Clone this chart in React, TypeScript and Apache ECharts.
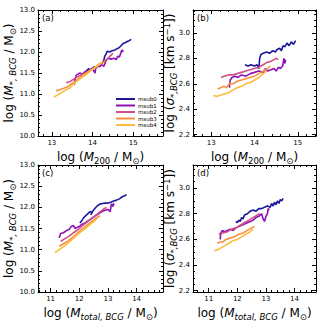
import React, { useEffect, useRef } from "react";
import * as echarts from "echarts";

const seriesNames = ["msub0", "msub1", "msub2", "msub3", "msub4"];
const colors = ["#1c1898", "#8c10b4", "#d04f88", "#f7903e", "#fcbc3e"];

const xTicksM200 = [13, 14, 15];
const xTicksMtot = [11, 12, 13, 14];
const yTicksMass = [10.0, 10.5, 11.0, 11.5, 12.0, 12.5, 13.0];
const yTicksSigma = [2.2, 2.4, 2.6, 2.8, 3.0];

// Panel (a): log M200 vs log M*,BCG
const a0 = [[13.72,11.42],[13.78,11.5],[13.85,11.55],[13.9,11.6],[13.95,11.58],[14.0,11.62],[14.05,11.65],[14.1,11.63],[14.15,11.7],[14.2,11.72],[14.25,11.75],[14.28,11.82],[14.3,11.9],[14.33,11.95],[14.36,12.02],[14.42,12.0],[14.48,12.03],[14.55,12.05],[14.6,12.08],[14.65,12.1],[14.7,12.15],[14.75,12.2],[14.8,12.22],[14.85,12.25],[14.9,12.27],[14.95,12.3]];
const a1 = [[13.55,11.22],[13.57,11.35],[13.6,11.45],[13.65,11.48],[13.7,11.5],[13.75,11.46],[13.8,11.5],[13.85,11.55],[13.9,11.52],[13.95,11.58],[14.0,11.6],[14.03,11.55],[14.06,11.5],[14.08,11.62],[14.12,11.68],[14.18,11.65],[14.22,11.7],[14.28,11.66],[14.33,11.8],[14.38,11.85],[14.45,11.83],[14.52,11.85],[14.58,11.82],[14.62,11.9],[14.66,11.88],[14.7,12.0],[14.73,12.05],[14.75,12.0]];
const a2 = [[13.35,11.27],[13.45,11.3],[13.55,11.36],[13.65,11.42],[13.75,11.47],[13.85,11.52],[13.95,11.57],[14.05,11.62],[14.15,11.68],[14.25,11.75],[14.35,11.82],[14.45,11.92],[14.5,11.97]];
const a3 = [[13.1,11.08],[13.2,11.1],[13.3,11.14],[13.4,11.18],[13.5,11.25],[13.6,11.32],[13.7,11.4],[13.8,11.47],[13.9,11.53],[14.0,11.6],[14.1,11.66],[14.2,11.72],[14.3,11.78]];
const a4 = [[13.05,10.93],[13.15,10.98],[13.25,11.04],[13.35,11.1],[13.45,11.15],[13.55,11.25],[13.65,11.33],[13.75,11.4],[13.85,11.47],[13.95,11.55],[14.05,11.62],[14.15,11.7],[14.22,11.75]];

// Panel (b): log M200 vs log sigma*,BCG
const b0 = [[13.78,2.75],[13.85,2.74],[13.92,2.75],[14.0,2.74],[14.06,2.75],[14.1,2.72],[14.12,2.8],[14.15,2.83],[14.2,2.84],[14.28,2.85],[14.35,2.84],[14.42,2.86],[14.48,2.85],[14.52,2.87],[14.58,2.88],[14.62,2.86],[14.66,2.9],[14.7,2.89],[14.75,2.92],[14.8,2.9],[14.85,2.93],[14.9,2.91],[14.95,2.94]];
const b1 = [[13.42,2.57],[13.44,2.63],[13.48,2.65],[13.55,2.66],[13.62,2.65],[13.7,2.67],[13.8,2.66],[13.9,2.68],[14.0,2.69],[14.1,2.7],[14.2,2.69],[14.25,2.72],[14.3,2.7],[14.38,2.71],[14.45,2.72],[14.5,2.7],[14.55,2.73],[14.6,2.72],[14.65,2.74],[14.68,2.8],[14.7,2.76],[14.72,2.79]];
const b2 = [[13.23,2.65],[13.3,2.66],[13.4,2.67],[13.5,2.67],[13.6,2.68],[13.7,2.69],[13.8,2.7],[13.9,2.71],[14.0,2.72],[14.1,2.73],[14.2,2.75],[14.3,2.77],[14.4,2.78],[14.5,2.8],[14.55,2.79]];
const b3 = [[13.15,2.56],[13.22,2.57],[13.3,2.58],[13.35,2.57],[13.42,2.6],[13.5,2.6],[13.6,2.62],[13.7,2.63],[13.8,2.64],[13.9,2.65],[14.0,2.66],[14.1,2.68],[14.2,2.7],[14.3,2.72],[14.36,2.74]];
const b4 = [[13.05,2.51],[13.12,2.5],[13.2,2.51],[13.3,2.52],[13.4,2.53],[13.5,2.55],[13.6,2.57],[13.7,2.58],[13.8,2.6],[13.9,2.61],[14.0,2.63],[14.1,2.65],[14.2,2.68],[14.28,2.7]];

// Panel (c): log Mtotal,BCG vs log M*,BCG
const c0 = [[12.02,11.63],[12.08,11.68],[12.15,11.75],[12.22,11.8],[12.3,11.85],[12.38,11.9],[12.45,11.88],[12.4,11.82],[12.48,11.92],[12.55,11.98],[12.62,12.03],[12.7,12.07],[12.8,12.09],[12.9,12.1],[13.0,12.1],[13.1,12.12],[13.2,12.15],[13.3,12.17],[13.4,12.2],[13.5,12.25],[13.6,12.28],[13.65,12.3]];
const c1 = [[11.3,11.28],[11.35,11.38],[11.45,11.4],[11.55,11.45],[11.65,11.48],[11.72,11.55],[11.8,11.57],[11.85,11.5],[11.9,11.52],[12.0,11.55],[12.1,11.6],[12.2,11.63],[12.3,11.68],[12.4,11.72],[12.5,11.77],[12.6,11.82],[12.7,11.86],[12.8,11.9],[12.9,11.93],[13.0,11.95],[13.08,11.9],[13.12,12.08],[13.18,12.02],[13.2,12.1]];
const c2 = [[11.35,11.2],[11.5,11.26],[11.65,11.32],[11.8,11.4],[11.95,11.47],[12.1,11.56],[12.25,11.64],[12.4,11.72],[12.55,11.8],[12.7,11.88],[12.85,11.96],[12.95,12.0]];
const c3 = [[11.3,11.08],[11.45,11.14],[11.6,11.2],[11.75,11.28],[11.9,11.37],[12.05,11.46],[12.2,11.54],[12.35,11.62],[12.5,11.7],[12.62,11.76],[12.72,11.8]];
const c4 = [[11.15,10.93],[11.3,11.0],[11.45,11.07],[11.6,11.15],[11.75,11.24],[11.9,11.33],[12.05,11.42],[12.2,11.5],[12.35,11.58],[12.5,11.66],[12.6,11.72]];

// Panel (d): log Mtotal,BCG vs log sigma*,BCG
const d0 = [[11.95,2.74],[12.0,2.73],[12.05,2.75],[12.1,2.74],[12.15,2.77],[12.2,2.76],[12.25,2.79],[12.35,2.8],[12.45,2.82],[12.55,2.83],[12.65,2.82],[12.75,2.84],[12.85,2.84],[12.95,2.85],[13.05,2.86],[13.15,2.85],[13.2,2.88],[13.25,2.86],[13.3,2.89],[13.35,2.87],[13.4,2.9],[13.45,2.88],[13.5,2.91],[13.55,2.9],[13.6,2.92]];
const d1 = [[11.4,2.6],[11.42,2.65],[11.48,2.67],[11.55,2.66],[11.65,2.67],[11.75,2.68],[11.85,2.67],[11.95,2.69],[12.05,2.7],[12.15,2.71],[12.25,2.72],[12.35,2.73],[12.45,2.74],[12.55,2.75],[12.65,2.77],[12.75,2.78],[12.85,2.8],[12.9,2.76],[12.95,2.74],[13.0,2.78],[13.05,2.8],[13.08,2.84],[13.12,2.83]];
const d2 = [[11.35,2.64],[11.5,2.65],[11.65,2.66],[11.8,2.68],[11.95,2.69],[12.1,2.71],[12.25,2.73],[12.4,2.75],[12.55,2.77],[12.7,2.79],[12.8,2.8]];
const d3 = [[11.3,2.57],[11.4,2.58],[11.5,2.58],[11.6,2.6],[11.75,2.61],[11.9,2.62],[12.05,2.64],[12.2,2.65],[12.35,2.67],[12.5,2.69],[12.6,2.7]];
const d4 = [[11.2,2.51],[11.3,2.52],[11.4,2.53],[11.55,2.55],[11.7,2.57],[11.85,2.59],[12.0,2.6],[12.15,2.62],[12.3,2.64],[12.45,2.66],[12.55,2.68]];

const panelData = [
  [a0, a1, a2, a3, a4],
  [b0, b1, b2, b3, b4],
  [c0, c1, c2, c3, c4],
  [d0, d1, d2, d3, d4],
];
const panelLabels = ["(a)", "(b)", "(c)", "(d)"];

const FONT = "DejaVu Sans";

const rich = {
  n: { fontSize: 12, fontFamily: FONT, color: "#000", lineHeight: 16 },
  i: { fontSize: 12, fontFamily: FONT, fontStyle: "italic", color: "#000", lineHeight: 16 },
  s: { fontSize: 8.5, fontFamily: FONT, color: "#000", verticalAlign: "bottom", lineHeight: 9 },
  si: { fontSize: 8.5, fontFamily: FONT, fontStyle: "italic", color: "#000", verticalAlign: "bottom", lineHeight: 9 },
  p: { fontSize: 8.5, fontFamily: FONT, color: "#000", verticalAlign: "top", lineHeight: 9 },
};

const nameM200 = "{n|log (}{i|M}{s|200}{n| / M}{s|⊙}{n|)}";
const nameMtot = "{n|log (}{i|M}{si|total, BCG}{n| / M}{s|⊙}{n|)}";
const nameMstar = "{n|log (}{i|M}{si|*, BCG}{n| / M}{s|⊙}{n|)}";
const nameSigma = "{n|log (}{i|σ}{si|*,BCG}{n| [km s}{p|−1}{n|])}";

function range(a: number, b: number, step: number) {
  const out: number[] = [];
  const n = Math.round((b - a) / step);
  for (let k = 0; k <= n; k++) out.push(+(a + k * step).toFixed(4));
  return out;
}

const panels = [
  { left: 38, top: 10, width: 125, height: 126, x: [12.66, 15.73], y: [10, 13], xt: xTicksM200, yt: yTicksMass, xm: range(12.8, 15.6, 0.2), ym: range(10, 13, 0.1), xn: nameM200, yn: nameMstar, yg: 21 },
  { left: 193, top: 10, width: 123, height: 126, x: [12.58, 15.42], y: [2.19, 3.18], xt: xTicksM200, yt: yTicksSigma, xm: range(12.6, 15.4, 0.2), ym: range(2.2, 3.15, 0.05), xn: nameM200, yn: nameSigma, yg: 15 },
  { left: 38, top: 165, width: 125, height: 128, x: [10.56, 14.92], y: [10, 13], xt: xTicksMtot, yt: yTicksMass, xm: range(10.6, 14.8, 0.2), ym: range(10, 13, 0.1), xn: nameMtot, yn: nameMstar, yg: 21 },
  { left: 193, top: 165, width: 123, height: 128, x: [10.45, 14.75], y: [2.19, 3.18], xt: xTicksMtot, yt: yTicksSigma, xm: range(10.6, 14.6, 0.2), ym: range(2.2, 3.15, 0.05), xn: nameMtot, yn: nameSigma, yg: 15 },
];

function buildOption() {
  const grid: any[] = [];
  const xAxis: any[] = [];
  const yAxis: any[] = [];
  const series: any[] = [];
  const graphic: any[] = [];
  const lineStyle = { color: "#000", width: 1 };

  panels.forEach((p, gi) => {
    grid.push({ left: p.left, top: p.top, width: p.width, height: p.height, containLabel: false });
    const xBase = { type: "value", gridIndex: gi, min: p.x[0], max: p.x[1], splitLine: { show: false } };
    const yBase = { type: "value", gridIndex: gi, min: p.y[0], max: p.y[1], splitLine: { show: false } };
    const mainX = xAxis.length;
    xAxis.push({
      ...xBase, position: "bottom",
      axisLine: { show: true, onZero: false, lineStyle },
      axisTick: { show: true, inside: true, length: 4, customValues: p.xt, lineStyle },
      axisLabel: { show: true, customValues: p.xt, fontSize: 7, fontFamily: FONT, color: "#000", margin: 3, formatter: (v: number) => String(Math.round(v)) },
      name: p.xn, nameLocation: "middle", nameGap: 13, nameMoveOverlap: false,
      nameTextStyle: { rich },
    });
    xAxis.push({ ...xBase, position: "bottom", axisLine: { show: false, onZero: false }, axisTick: { show: true, inside: true, length: 2, customValues: p.xm, lineStyle }, axisLabel: { show: false } });
    xAxis.push({ ...xBase, position: "top", axisLine: { show: true, onZero: false, lineStyle }, axisTick: { show: true, inside: true, length: 4, customValues: p.xt, lineStyle }, axisLabel: { show: false } });
    xAxis.push({ ...xBase, position: "top", axisLine: { show: false, onZero: false }, axisTick: { show: true, inside: true, length: 2, customValues: p.xm, lineStyle }, axisLabel: { show: false } });

    const mainY = yAxis.length;
    yAxis.push({
      ...yBase, position: "left",
      axisLine: { show: true, onZero: false, lineStyle },
      axisTick: { show: true, inside: true, length: 4, customValues: p.yt, lineStyle },
      axisLabel: { show: true, customValues: p.yt, fontSize: 7, fontFamily: FONT, color: "#000", margin: 3, formatter: (v: number) => v.toFixed(1) },
      name: p.yn, nameLocation: "middle", nameGap: p.yg, nameRotate: 90, nameMoveOverlap: false,
      nameTextStyle: { rich },
    });
    yAxis.push({ ...yBase, position: "left", axisLine: { show: false, onZero: false }, axisTick: { show: true, inside: true, length: 2, customValues: p.ym, lineStyle }, axisLabel: { show: false } });
    yAxis.push({ ...yBase, position: "right", axisLine: { show: true, onZero: false, lineStyle }, axisTick: { show: true, inside: true, length: 4, customValues: p.yt, lineStyle }, axisLabel: { show: false } });
    yAxis.push({ ...yBase, position: "right", axisLine: { show: false, onZero: false }, axisTick: { show: true, inside: true, length: 2, customValues: p.ym, lineStyle }, axisLabel: { show: false } });

    panelData[gi].forEach((data, si) => {
      series.push({
        type: "line",
        name: seriesNames[si],
        xAxisIndex: mainX,
        yAxisIndex: mainY,
        data,
        showSymbol: false,
        symbol: "none",
        lineStyle: { color: colors[si], width: 1.6 },
        itemStyle: { color: colors[si] },
        z: 3,
      });
    });

    graphic.push({
      type: "text",
      left: p.left + 4,
      top: p.top + 3,
      style: { text: panelLabels[gi], fontSize: 8.5, fontFamily: FONT, fill: "#000" },
    });
  });

  return {
    animation: false,
    backgroundColor: "#fff",
    grid,
    xAxis,
    yAxis,
    series,
    graphic,
    legend: {
      data: seriesNames,
      orient: "vertical",
      left: 116,
      top: 96,
      padding: 0,
      itemGap: 0.5,
      itemWidth: 19,
      itemHeight: 2,
      icon: "rect",
      textStyle: { fontSize: 5.5, fontFamily: FONT, color: "#000", lineHeight: 6, padding: [0, 0, 0, -2] },
      selectedMode: false,
    },
  };
}

export default function App() {
  const ref = useRef<HTMLDivElement>(null);
  useEffect(() => {
    if (!ref.current) return;
    const chart = echarts.init(ref.current, undefined, { renderer: "svg" });
    chart.setOption(buildOption() as any);
    return () => chart.dispose();
  }, []);
  return (
    <div
      ref={ref}
      style={{ position: "fixed", left: 0, top: 0, width: 322, height: 322, background: "#fff" }}
    />
  );
}
